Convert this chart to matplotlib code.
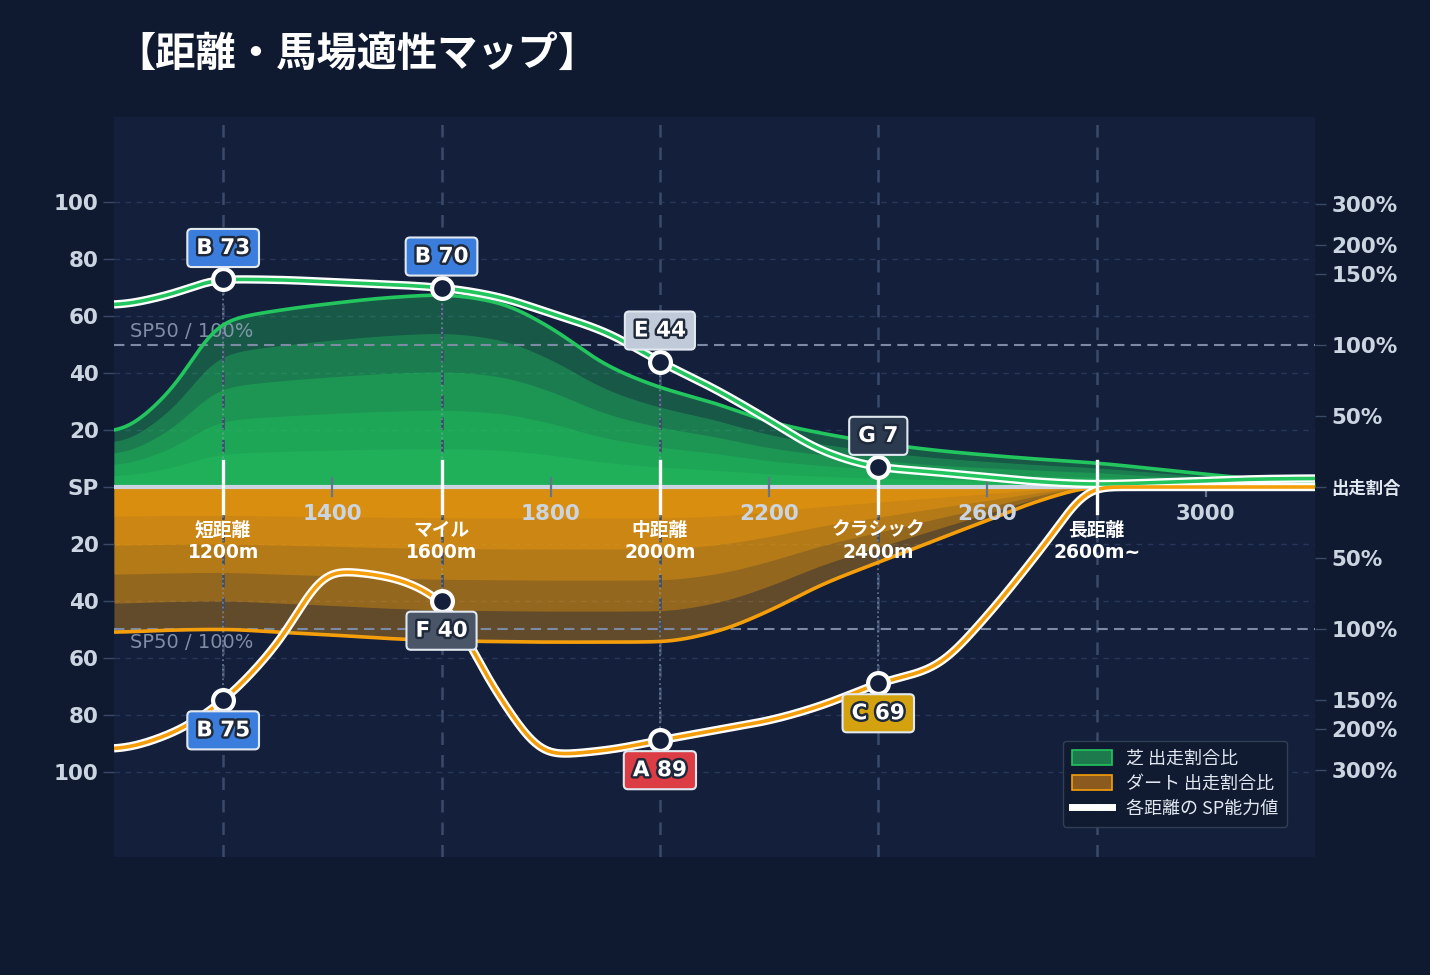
import numpy as np
import matplotlib
matplotlib.use('Agg')
import matplotlib.pyplot as plt
from matplotlib import patheffects as pe
from matplotlib.patches import Patch
from matplotlib.lines import Line2D

# distance grid (m) and values
dist = np.arange(1000, 3201, 100)
# share of runners (% , 100% = SP50 line)
turf_share = [39, 66, 116, 124, 129, 133, 135, 130, 112, 86, 70, 59, 46, 37.5, 31,
              26, 22.4, 19.4, 16.8, 13, 9, 5.5, 4]
dirt_share = [102, 100.6, 100, 102, 104, 106.4, 108, 108.6, 109, 109, 108.8, 102,
              87, 68, 53, 38, 23.5, 9, 0, 0, 0, 0, 0]
# SP ability curve
turf_sp = [64, 67.5, 73, 72.8, 72, 71.2, 70, 67, 61, 54.5, 44, 34.5, 23.5, 12.5, 7,
           5.3, 3.5, 1.8, 1, 1.5, 2.2, 2.8, 3]
dirt_sp = [92, 87, 75, 55, 29.5, 31.5, 40, 72, 94, 92.5, 89, 85.5, 82, 76.5, 69,
           63.5, 45, 21.5, 0, 0, 0, 0, 0]

cat_dist = [1200, 1600, 2000, 2400, 2800]
cat_names = ['短距離', 'マイル', '中距離', 'クラシック', '長距離']
cat_labels = ['1200m', '1600m', '2000m', '2400m', '2600m~']

mark_dist = [1200, 1600, 2000, 2400]
turf_rank = ['B', 'B', 'E', 'G']
turf_val = [73, 70, 44, 7]
dirt_rank = ['B', 'F', 'A', 'C']
dirt_val = [75, 40, 89, 69]
rank_color = {'A': '#dc3d45', 'B': '#3b7ddd', 'C': '#d4a20f',
              'E': '#c0cad8', 'F': '#4a5568', 'G': '#2c3a50'}

dist_ticks = [1400, 1800, 2200, 2600, 3000]
sp_ticks = [20, 40, 60, 80, 100]
ratio_ticks = [50, 100, 150, 200, 300]

BG = '#0f1a30'
PANEL = '#131f3b'
GREEN = '#22c55e'
ORANGE = '#f59e0b'

plt.rcParams['font.family'] = ['DejaVu Sans', 'Noto Sans CJK JP']


def pchip(x, y, xs):
    # monotone cubic interpolation (no scipy here)
    x = np.asarray(x, float)
    y = np.asarray(y, float)
    h = np.diff(x)
    d = np.diff(y) / h
    n = len(x)
    m = np.zeros(n)
    for k in range(1, n - 1):
        if d[k - 1] * d[k] > 0:
            w1 = 2 * h[k] + h[k - 1]
            w2 = h[k] + 2 * h[k - 1]
            m[k] = (w1 + w2) / (w1 / d[k - 1] + w2 / d[k])
    i = np.clip(np.searchsorted(x, xs) - 1, 0, n - 2)
    t = (xs - x[i]) / h[i]
    h00 = 2 * t**3 - 3 * t**2 + 1
    h10 = t**3 - 2 * t**2 + t
    h01 = -2 * t**3 + 3 * t**2
    h11 = t**3 - t**2
    return h00 * y[i] + h10 * h[i] * m[i] + h01 * y[i + 1] + h11 * h[i] * m[i + 1]


def smooth(y, s):
    # light gaussian smoothing, s in samples
    k = np.arange(-3 * s, 3 * s + 1)
    w = np.exp(-k**2 / (2.0 * s * s))
    w /= w.sum()
    return np.convolve(np.pad(y, len(k) // 2, mode='edge'), w, mode='valid')


def ratio_to_sp(pct):
    # right axis: 100% sits on SP50, compressed above 150%
    r = np.asarray(pct, float) / 100
    return np.where(r <= 1.5, 50 * r, 75 + 35 * np.log(np.maximum(r, 1e-9) / 1.5))


fig = plt.figure(figsize=(14.3, 9.75), dpi=100, facecolor=BG)
ax = fig.add_axes([0.0797, 0.121, 0.8399, 0.759])
ax.set_facecolor(PANEL)
ax.set_xlim(1000, 3200)
ax.set_ylim(-130, 130)
for s in ax.spines.values():
    s.set_visible(False)

xs = np.linspace(1000, 3200, 1101)
t_share = smooth(ratio_to_sp(pchip(dist, turf_share, xs)), 12)
d_share = smooth(ratio_to_sp(pchip(dist, dirt_share, xs)), 12)
t_sp = smooth(pchip(dist, turf_sp, xs), 12)
d_sp = smooth(pchip(dist, dirt_sp, xs), 12)

# grid
for v in sp_ticks:
    for sgn in (1, -1):
        ax.axhline(sgn * v, color='#27365a', lw=1, ls=(0, (4, 4)), zorder=0.5)

# share bands
for k in range(1, 6):
    ax.fill_between(xs, 0, t_share * k / 5, color=GREEN, alpha=0.35, lw=0, zorder=1)
    ax.fill_between(xs, 0, -d_share * k / 5, color=ORANGE, alpha=0.35, lw=0, zorder=1)
ax.plot(xs, t_share, color=GREEN, lw=2.6, zorder=3)
ax.plot(xs, -d_share, color=ORANGE, lw=2.6, zorder=3)

for d in cat_dist:
    ax.axvline(d, color='#3a4a6a', lw=1.8, ls=(0, (5, 4)), zorder=2)

for sgn in (1, -1):
    ax.axhline(sgn * 50, color='#7d8aa3', lw=1.5, ls=(0, (5, 3)), zorder=2.5)
ax.text(1030, 54.5, 'SP50 / 100%', color='#94a3b8', alpha=0.85, fontsize=14, va='center', zorder=2.6)
ax.text(1030, -54.5, 'SP50 / 100%', color='#94a3b8', alpha=0.85, fontsize=14, va='center', zorder=2.6)

# drop lines from markers
for d, v in zip(mark_dist, turf_val):
    ax.plot([d, d], [0, v], color='#94a3b8', lw=1.3, ls=':', alpha=0.6, zorder=2.7)
for d, v in zip(mark_dist, dirt_val):
    ax.plot([d, d], [0, -v], color='#94a3b8', lw=1.3, ls=':', alpha=0.6, zorder=2.7)

ax.axhline(0, color='#cbd5e1', lw=3, zorder=4)

# SP lines
ax.plot(xs, t_sp, color='white', lw=6, zorder=6, solid_capstyle='butt')
ax.plot(xs, t_sp, color=GREEN, lw=2.6, zorder=6.1)
ax.plot(xs, -d_sp, color='white', lw=6, zorder=6, solid_capstyle='butt')
ax.plot(xs, -d_sp, color=ORANGE, lw=2.6, zorder=6.1)

for d in dist_ticks:
    ax.plot([d, d], [-3.3, 3.3], color='#64748b', lw=1.6, zorder=5)
    ax.text(d, -9.4, str(d), ha='center', va='center', fontsize=15.5, fontweight='bold',
            color='#cbd5e1', zorder=5)

for d, nm, lb in zip(cat_dist, cat_names, cat_labels):
    ax.plot([d, d], [-9, 9], color='white', lw=2.4, zorder=7)
    ax.text(d, -19, nm + '\n' + lb, ha='center', va='center', fontsize=13.5,
            fontweight='bold', color='white', linespacing=1.2, zorder=7)

stroke = [pe.withStroke(linewidth=3.5, foreground='#1e293b')]
for d, v, r in zip(mark_dist, turf_val, turf_rank):
    ax.plot(d, v, 'o', ms=15, mfc=PANEL, mec='white', mew=3, zorder=8)
    ax.annotate(f'{r} {v}', xy=(d, v), xytext=(0, 22.5), textcoords='offset points',
                ha='center', va='center', fontsize=15.5, fontweight='bold', color='white',
                path_effects=stroke, zorder=9,
                bbox=dict(boxstyle='round,pad=0.42,rounding_size=0.2', fc=rank_color[r],
                          ec='#e2e8f0', lw=1.5))
for d, v, r in zip(mark_dist, dirt_val, dirt_rank):
    ax.plot(d, -v, 'o', ms=15, mfc=PANEL, mec='white', mew=3, zorder=8)
    ax.annotate(f'{r} {v}', xy=(d, -v), xytext=(0, -21.5), textcoords='offset points',
                ha='center', va='center', fontsize=15.5, fontweight='bold', color='white',
                path_effects=stroke, zorder=9,
                bbox=dict(boxstyle='round,pad=0.42,rounding_size=0.2', fc=rank_color[r],
                          ec='#e2e8f0', lw=1.5))

# left axis
yt = [v for v in sp_ticks[::-1]] + [0] + [-v for v in sp_ticks]
ax.set_yticks(yt)
ax.set_yticklabels([str(v) for v in sp_ticks[::-1]] + ['SP'] + [str(v) for v in sp_ticks])
ax.tick_params(axis='y', length=8, width=1, color='#3a4a66', pad=3, labelsize=15.5,
               labelcolor='#cbd5e1')
for lab in ax.get_yticklabels():
    lab.set_fontweight('bold')
ax.set_xticks([])

# right axis with share ratio
ax2 = ax.twinx()
ax2.set_ylim(ax.get_ylim())
for s in ax2.spines.values():
    s.set_visible(False)
rpos = list(ratio_to_sp(ratio_ticks))
ax2.set_yticks(rpos[::-1] + [0] + [-p for p in rpos])
rlab = [f'{r}%' for r in ratio_ticks]
ax2.set_yticklabels(rlab[::-1] + ['出走割合'] + rlab)
ax2.tick_params(axis='y', length=8, width=1, color='#3a4a66', pad=4, labelsize=15.5,
                labelcolor='#cbd5e1')
for lab in ax2.get_yticklabels():
    lab.set_fontweight('bold')
    if lab.get_text() == '出走割合':
        lab.set_fontsize(12.5)
        lab.set_color('#e2e8f0')

handles = [Patch(facecolor='#1c7a4d', edgecolor=GREEN, lw=1.2),
           Patch(facecolor='#8a5a1e', edgecolor=ORANGE, lw=1.2),
           Line2D([0], [0], color='white', lw=5)]
leg = ax.legend(handles, ['芝 出走割合比', 'ダート 出走割合比', '各距離の SP能力値'],
                loc='lower left', bbox_to_anchor=(0.790, 0.0405), borderaxespad=0,
                frameon=True, facecolor='#101a30', edgecolor='#334155', framealpha=0.95,
                labelcolor='#e2e8f0', handlelength=2.2, handleheight=0.9,
                handletextpad=0.8, borderpad=0.5, labelspacing=0.4,
                prop={'family': ['Noto Sans CJK JP', 'DejaVu Sans'], 'size': 13})
leg.set_zorder(10)

fig.text(0.081, 0.944, '【距離・馬場適性マップ】', fontsize=29, fontweight='bold',
         color='white', va='center', family='Noto Sans CJK JP')

fig.savefig('out.png', dpi=100, facecolor=BG)
